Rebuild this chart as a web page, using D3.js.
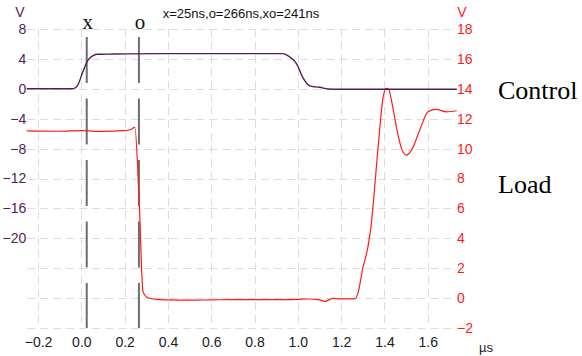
<!DOCTYPE html>
<html>
<head>
<meta charset="utf-8">
<script src="https://cdn.jsdelivr.net/npm/d3@7/dist/d3.min.js"></script>
<style>
  html, body { margin: 0; padding: 0; background: #fff; }
  svg { display: block; font-family: "Liberation Sans", Arial, sans-serif; }
</style>
</head>
<body>
<svg id="chart" width="582" height="356"></svg>
<script>
// Time ticks (µs) and voltage ticks for the two channels
const timeTicks = [-0.2, 0.0, 0.2, 0.4, 0.6, 0.8, 1.0, 1.2, 1.4, 1.6];
const controlTicks = [8, 4, 0, -4, -8, -12, -16, -20];
const gridTicks = [8, 4, 0, -4, -8, -12, -16, -20, -24, -28, -32];
const loadTicks = [18, 16, 14, 12, 10, 8, 6, 4, 2, 0, -2];

// Cursor positions (µs)
const cursorNames = ["x", "o"];
const cursorTimes = [0.025, 0.266];

// Control channel (left axis, V)
const controlTimes = [-0.252, -0.15, -0.06, -0.035, -0.017, 0.006, 0.030, 0.055, 0.075, 0.15, 0.36, 0.6, 0.8, 0.93, 0.945, 0.97, 0.995, 1.023, 1.055, 1.08, 1.101, 1.138, 1.194, 1.4, 1.6, 1.734];
const controlVolts = [0.0, 0.0, 0.0, 0.03, 0.45, 2.2, 3.8, 4.45, 4.62, 4.65, 4.7, 4.7, 4.7, 4.7, 4.58, 4.1, 3.3, 1.5, 0.4, 0.25, 0.2, -0.02, -0.07, -0.07, -0.07, -0.07];

// Load channel (right axis, V)
const loadTimes = [-0.252, -0.1, 0.0, 0.1, 0.2, 0.225, 0.247, 0.267, 0.285, 0.308, 0.347, 0.4, 0.5, 0.6, 0.7, 0.8, 0.9, 1.0, 1.05, 1.1, 1.125, 1.161, 1.2, 1.263, 1.277, 1.300, 1.322, 1.338, 1.350, 1.364, 1.379, 1.394, 1.409, 1.42, 1.432, 1.455, 1.479, 1.502, 1.525, 1.563, 1.601, 1.640, 1.686, 1.734];
const loadVolts = [11.18, 11.16, 11.2, 11.15, 11.2, 11.26, 11.42, 6.55, 0.42, 0.02, -0.09, -0.12, -0.14, -0.12, -0.1, -0.1, -0.1, -0.08, -0.06, -0.12, -0.22, -0.02, -0.05, -0.05, 0.3, 2.0, 3.3, 4.8, 6.6, 9.0, 11.46, 13.46, 14.03, 13.95, 13.24, 11.46, 10.0, 9.57, 9.9, 11.24, 12.46, 12.62, 12.46, 12.53];

const controlColor = "#561c56";
const loadColor = "#ff1a1a";
const gridColor = "#dcdcdc";
const sansFont = "'Liberation Sans', Arial, sans-serif";
const serifFont = "'Liberation Serif', 'Times New Roman', serif";

const svg = d3.select("#chart");
const plotLeft = 27.2, plotRight = 457, plotTop = 29, plotBottom = 328;

const x = d3.scaleLinear().domain([-0.25, 1.735]).range([plotLeft, plotRight]);
const yC = d3.scaleLinear().domain([-32, 8]).range([plotBottom, plotTop]);
const yL = d3.scaleLinear().domain([-2, 18]).range([plotBottom, plotTop]);

// Dashed grid
const grid = svg.append("g").attr("stroke", gridColor).attr("stroke-width", 1)
  .attr("stroke-dasharray", "8,5");
grid.selectAll("line.h").data(gridTicks).join("line").attr("class", "h")
  .attr("x1", plotLeft).attr("x2", plotRight)
  .attr("y1", d => Math.round(yC(d)) + 0.5).attr("y2", d => Math.round(yC(d)) + 0.5);
grid.selectAll("line.v").data(timeTicks).join("line").attr("class", "v")
  .attr("y1", plotTop).attr("y2", plotBottom)
  .attr("x1", d => Math.round(x(d)) + 0.5).attr("x2", d => Math.round(x(d)) + 0.5);

// Axes: labels only, no domain lines or tick marks
function styleAxis(g, color) {
  g.select(".domain").remove();
  g.attr("font-family", null).attr("font-size", null);
  g.selectAll("text").attr("fill", color).style("font-size", "14px").style("font-family", sansFont);
}
const axisLeft = d3.axisLeft(yC).tickValues(controlTicks).tickSize(0).tickPadding(1)
  .tickFormat(d3.format("d"));
svg.append("g").attr("transform", `translate(${plotLeft},0)`).call(axisLeft)
  .call(styleAxis, controlColor);

const axisRight = d3.axisRight(yL).tickValues(loadTicks).tickSize(0).tickPadding(0)
  .tickFormat(d3.format("d"));
svg.append("g").attr("transform", `translate(${plotRight},0)`).call(axisRight)
  .call(styleAxis, loadColor);

const axisBottom = d3.axisBottom(x).tickValues(timeTicks).tickSize(0).tickPadding(9)
  .tickFormat(d3.format(".1f"));
svg.append("g").attr("transform", `translate(0,${plotBottom})`).call(axisBottom)
  .call(styleAxis, "#1a1a1a");

// Units
svg.append("text").attr("x", 20).attr("y", 17).attr("text-anchor", "middle")
  .attr("fill", controlColor).style("font-size", "14px").text("V");
svg.append("text").attr("x", 462).attr("y", 17).attr("text-anchor", "middle")
  .attr("fill", loadColor).style("font-size", "14px").text("V");
svg.append("text").attr("x", 486).attr("y", 352).attr("text-anchor", "middle")
  .attr("fill", "#1a1a1a").style("font-size", "13px").text("µs");

// Cursor readout
const fmtNs = t => Math.round(t * 1000) + "ns";
svg.append("text").attr("x", 241).attr("y", 18).attr("text-anchor", "middle")
  .attr("fill", "#111").style("font-size", "13px")
  .text(`x=${fmtNs(cursorTimes[0])},o=${fmtNs(cursorTimes[1])},xo=${fmtNs(cursorTimes[1] - cursorTimes[0])}`);

// Cursors
const cursors = svg.append("g");
cursors.selectAll("line").data(cursorTimes).join("line")
  .attr("x1", d => x(d)).attr("x2", d => x(d))
  .attr("y1", 37).attr("y2", plotBottom)
  .attr("stroke", "#6e6e6e").attr("stroke-width", 2)
  .attr("stroke-dasharray", "46,15.5");
cursors.selectAll("text").data(cursorTimes).join("text")
  .attr("x", d => x(d) + 1).attr("y", 29).attr("text-anchor", "middle")
  .style("font-family", serifFont).style("font-size", "21px").attr("fill", "#111")
  .text((d, i) => cursorNames[i]);

// Traces
const controlLine = d3.line().x(d => x(d[0])).y(d => yC(d[1])).curve(d3.curveMonotoneX);
const loadLine = d3.line().x(d => x(d[0])).y(d => yL(d[1])).curve(d3.curveMonotoneX);

svg.append("path").datum(d3.zip(loadTimes, loadVolts))
  .attr("d", loadLine).attr("fill", "none").attr("stroke", loadColor).attr("stroke-width", 1.2);
svg.append("path").datum(d3.zip(controlTimes, controlVolts))
  .attr("d", controlLine).attr("fill", "none").attr("stroke", controlColor).attr("stroke-width", 1.4);

// Channel names
svg.append("text").attr("x", 498).attr("y", 99).style("font-family", serifFont)
  .style("font-size", "26px").attr("fill", "#000").text("Control");
svg.append("text").attr("x", 498).attr("y", 193).style("font-family", serifFont)
  .style("font-size", "26px").attr("fill", "#000").text("Load");
</script>
</body>
</html>
